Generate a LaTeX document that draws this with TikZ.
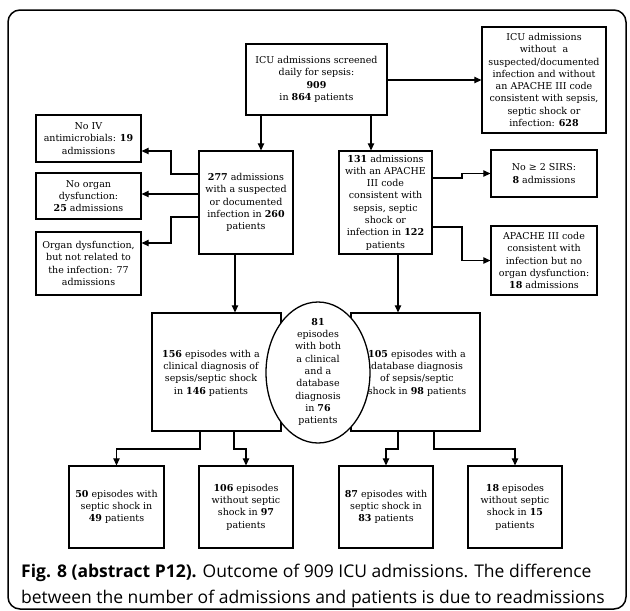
\documentclass[tikz,border=0pt]{standalone}
\usepackage{fontspec}
\setmainfont{DejaVu Serif}
\newfontfamily\capfont{Open Sans}
\usetikzlibrary{arrows.meta,shapes.geometric}
\begin{document}
\begin{tikzpicture}[x=1pt,y=-1pt,
  box/.style={draw, line width=1.3pt, inner sep=0pt, align=center,
    font=\fontsize{9.5}{12.3}\selectfont},
  txt/.style={inner sep=0pt, align=center, font=\fontsize{9.5}{12.3}\selectfont},
  conn/.style={line width=1.2pt, -{Triangle[length=7pt,width=6.5pt]}},
  captxt/.style={inner sep=0pt, anchor=base west, font=\capfont\fontsize{17.5}{26}\selectfont},
  frame/.style={line width=1.5pt, rounded corners=12pt}]
\useasboundingbox (0,0) rectangle (630,611);
\draw[frame] (8,10) rectangle (626,609);

\node[box, minimum width=141pt, minimum height=71pt] (top) at (316.5,79.5)
  {ICU admissions screened\\daily for sepsis:\\\textbf{909}\\in \textbf{864} patients};
\node[box, minimum width=124pt, minimum height=106pt] (right) at (544,80)
  {ICU admissions\\without\ \ a\\suspected/documented\\infection and without\\an APACHE III code\\consistent with sepsis,\\septic shock or\\infection: \textbf{628}};

\node[box, minimum width=105pt, minimum height=47pt] (noiv) at (88.5,138.5)
  {No IV\\antimicrobials: \textbf{19}\\admissions};
\node[box, minimum width=105pt, minimum height=46pt] (noorg) at (88.5,196)
  {No organ\\dysfunction:\\\textbf{25} admissions};
\node[box, minimum width=105pt, minimum height=63pt] (orgd) at (88.5,263.5)
  {Organ dysfunction,\\but not related to\\the infection: 77\\admissions};

\node[box, minimum width=94pt, minimum height=103pt] (b277) at (246,202.5)
  {\textbf{277} admissions\\with a suspected\\or documented\\infection in \textbf{260}\\patients};
\node[box, minimum width=93pt, minimum height=103pt] (b131) at (385.5,202.5)
  {\textbf{131} admissions\\with an APACHE\\III code\\consistent with\\sepsis, septic\\shock or\\infection in \textbf{122}\\patients};

\node[box, minimum width=106pt, minimum height=47pt] (sirs) at (544,173.5)
  {No ≥ 2 SIRS:\\\textbf{8} admissions};
\node[box, minimum width=106pt, minimum height=69pt] (apache) at (544,260.5)
  {APACHE III code\\consistent with\\infection but no\\organ dysfunction:\\\textbf{18} admissions};

\node[box, minimum width=129pt, minimum height=118pt] (b156) at (216.5,372) {};
\node[txt] (t156) at (211,373)
  {\textbf{156} episodes with a\\clinical diagnosis of\\sepsis/septic shock\\in \textbf{146} patients};
\node[box, minimum width=129pt, minimum height=118pt] (b105) at (415.5,372) {};
\node[txt] (t105) at (417,373)
  {\textbf{105} episodes with a\\database diagnosis\\of sepsis/septic\\shock in \textbf{98} patients};

\node[ellipse, draw, line width=1.3pt, fill=white, inner sep=0pt,
  minimum width=104pt, minimum height=141pt] (ell) at (318,372.5) {};
\node[txt] (tell) at (318,372)
  {\textbf{81}\\episodes\\with both\\a clinical\\and a\\database\\diagnosis\\in \textbf{76}\\patients};

\node[box, minimum width=95pt, minimum height=82pt] (bb1) at (116.5,507)
  {\textbf{50} episodes with\\septic shock in\\\textbf{49} patients};
\node[box, minimum width=94pt, minimum height=82pt] (bb2) at (246,507)
  {\textbf{106} episodes\\without septic\\shock in \textbf{97}\\patients};
\node[box, minimum width=94pt, minimum height=82pt] (bb3) at (386,507)
  {\textbf{87} episodes with\\septic shock in\\\textbf{83} patients};
\node[box, minimum width=94pt, minimum height=82pt] (bb4) at (515,507)
  {\textbf{18} episodes\\without septic\\shock in \textbf{15}\\patients};

\node[captxt] (cap1) at (21,577)
  {\textbf{Fig. 8 (abstract P12).} Outcome of 909 ICU admissions. The difference};
\node[captxt] (cap2) at (21,603)
  {between the number of admissions and patients is due to readmissions};

% connectors
\draw[conn] (top.east |- right.west) -- (right.west);
\draw[conn] (top.south -| 261,0) -- (b277.north -| 261,0);
\draw[conn] (top.south -| 371,0) -- (b131.north -| 371,0);

\draw[conn] (b277.west |- 0,174) -- (171,174) -- (171,151) -- (noiv.east |- 0,151);
\draw[conn] (b277.west |- 0,194) -- (noorg.east |- 0,194);
\draw[conn] (b277.west |- 0,217) -- (171,217) -- (171,243) -- (orgd.east |- 0,243);

\draw[conn] (b131.east |- 0,178) -- (462,178) -- (462,173.5) -- (sirs.west);
\draw[conn] (b131.east |- 0,227) -- (462,227) -- (462,260.5) -- (apache.west);

\draw[conn] (b277.south -| 235,0) -- (b156.north -| 235,0);
\draw[conn] (b131.south -| 398,0) -- (b105.north -| 398,0);

\draw[conn] (b156.south -| 200,0) -- (200,449) -| (bb1.north);
\draw[conn] (b156.south -| 234,0) -- (234,449) -| (bb2.north);
\draw[conn] (b105.south -| 398,0) -- (398,449) -| (bb3.north);
\draw[conn] (b105.south -| 434,0) -- (434,449) -| (bb4.north);
\end{tikzpicture}
\end{document}
